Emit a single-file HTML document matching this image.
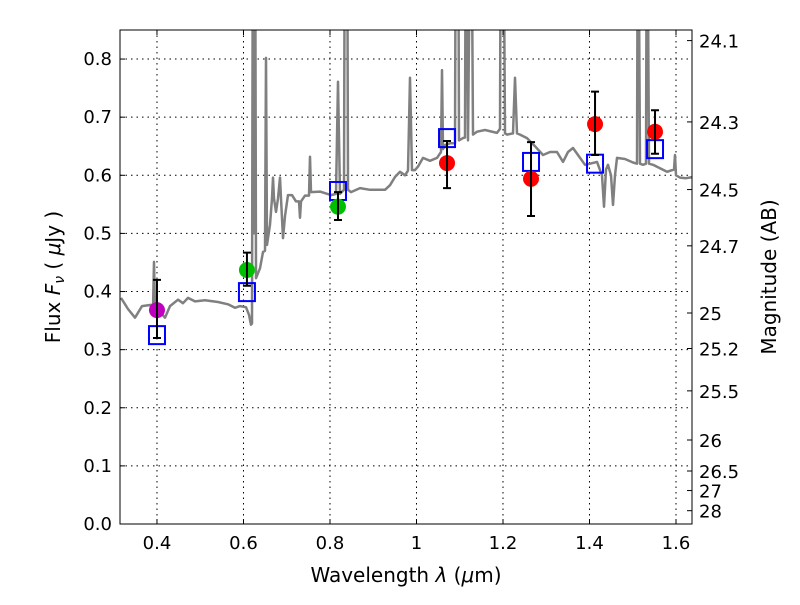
<!DOCTYPE html>
<html><head><meta charset="utf-8"><style>
body{margin:0;background:#fff;}
svg text{font-family:"DejaVu Sans","Liberation Sans",sans-serif;fill:#000;}
</style></head><body>
<svg id="chart" width="800" height="600">
<defs><clipPath id="clip"><rect x="120" y="30" width="572" height="494"/></clipPath></defs>
<g id="grid"></g>
<g id="spec" clip-path="url(#clip)"></g>
<g id="marks" clip-path="url(#clip)"></g>
<rect x="120" y="30" width="572" height="494" fill="none" stroke="#000" stroke-width="1"/>
<g id="axes"></g>
<text x="406" y="582" font-size="20" text-anchor="middle">Wavelength  <tspan font-style="italic">λ</tspan> (<tspan font-style="italic">μ</tspan>m)</text>
<text transform="translate(60,277) rotate(-90)" font-size="20" text-anchor="middle">Flux  <tspan font-style="italic">F<tspan font-size="14" dy="4">ν</tspan></tspan><tspan dy="-4">  ( </tspan><tspan font-style="italic">μ</tspan>Jy )</text>
<text transform="translate(776,277) rotate(-90)" font-size="20" text-anchor="middle">Magnitude (AB)</text>
</svg>
<script>
const specLam=[0.3168,0.3330,0.3492,0.3654,0.3862,0.3908,0.3931,0.3954,0.4070,0.4185,0.4301,0.4486,0.4602,0.4717,0.4879,0.5110,0.5411,0.5642,0.5804,0.5919,0.6058,0.6127,0.6174,0.6197,0.6220,0.6243,0.6266,0.6289,0.6382,0.6451,0.6497,0.6521,0.6544,0.6613,0.6659,0.6682,0.6705,0.6752,0.6798,0.6844,0.6867,0.6914,0.6960,0.7029,0.7122,0.7214,0.7283,0.7307,0.7330,0.7422,0.7515,0.7538,0.7561,0.7769,0.8023,0.8139,0.8185,0.8231,0.8324,0.8347,0.8393,0.8416,0.8486,0.8694,0.8925,0.9272,0.9387,0.9503,0.9619,0.9734,0.9804,0.9850,0.9896,0.9965,1.0035,1.0150,1.0312,1.0474,1.0567,1.0590,1.0613,1.0659,1.0775,1.0890,1.0913,1.0960,1.0983,1.1075,1.1121,1.1145,1.1191,1.1260,1.1306,1.1399,1.1584,1.1861,1.1931,1.1954,1.2000,1.2046,1.2092,1.2231,1.2277,1.2324,1.2393,1.2555,1.2740,1.2925,1.3087,1.3248,1.3387,1.3503,1.3618,1.3734,1.3896,1.4011,1.4173,1.4289,1.4335,1.4381,1.4428,1.4497,1.4543,1.4589,1.4636,1.4821,1.5006,1.5098,1.5121,1.5167,1.5237,1.5306,1.5329,1.5375,1.5468,1.5630,1.5792,1.5953,1.5976,1.6000,1.6092,1.6231,1.6393];
const specFlux=[0.389,0.370,0.355,0.375,0.377,0.370,0.451,0.370,0.365,0.355,0.375,0.386,0.380,0.389,0.383,0.385,0.382,0.378,0.372,0.375,0.373,0.360,0.343,0.345,1.2,0.5,1.2,0.423,0.440,0.468,0.470,0.802,0.480,0.515,0.560,0.596,0.560,0.537,0.560,0.596,0.560,0.492,0.530,0.566,0.566,0.555,0.555,0.527,0.555,0.565,0.565,0.632,0.571,0.572,0.566,0.568,0.761,0.568,0.575,1.2,1.2,0.575,0.571,0.578,0.575,0.575,0.583,0.597,0.606,0.600,0.608,0.768,0.609,0.609,0.615,0.630,0.625,0.630,0.640,0.781,0.645,0.652,0.655,0.655,1.2,1.2,0.660,0.664,0.665,1.2,0.660,1.2,0.670,0.675,0.678,0.673,0.680,1.2,1.2,0.672,0.670,0.672,0.768,0.672,0.670,0.664,0.650,0.635,0.640,0.640,0.623,0.640,0.647,0.635,0.618,0.620,0.623,0.600,0.546,0.610,0.618,0.600,0.549,0.600,0.630,0.628,0.622,0.620,1.2,0.620,0.618,0.620,1.2,0.620,0.618,0.612,0.606,0.610,0.635,0.600,0.596,0.595,0.597];
const modelLam=[0.40,0.608,0.8185,1.0706,1.2648,1.4128,1.5515];
const modelFlux=[0.325,0.399,0.573,0.664,0.623,0.620,0.645];
const obsLam=[0.40,0.608,0.8185,1.0706,1.2648,1.4128,1.5515];
const obsFlux=[0.368,0.437,0.546,0.621,0.594,0.688,0.675];
const obsErrLo=[0.048,0.027,0.023,0.043,0.064,0.053,0.038];
const obsErrHi=[0.052,0.030,0.025,0.038,0.063,0.056,0.037];
const obsColor=['#bf00bf','#00bf00','#00bf00','#ff0000','#ff0000','#ff0000','#ff0000'];
const xTicks=[0.4,0.6,0.8,1.0,1.2,1.4,1.6];
const xTickLabels=['0.4','0.6','0.8','1','1.2','1.4','1.6'];
const yTicks=[0,0.1,0.2,0.3,0.4,0.5,0.6,0.7,0.8];
const magTicks=[24.1,24.3,24.5,24.7,25,25.2,25.5,26,26.5,27,28];
const X0=120,X1=692,Y0=524,Y1=30,xmin=0.3145,xmax=1.637,ymin=0,ymax=0.85;
const sx=v=>X0+(v-xmin)/(xmax-xmin)*(X1-X0);
const sy=v=>Y0-(v-ymin)/(ymax-ymin)*(Y0-Y1);
const NS='http://www.w3.org/2000/svg';
function mk(tag,attrs,parent){const e=document.createElementNS(NS,tag);for(const k in attrs)e.setAttribute(k,attrs[k]);parent.appendChild(e);return e;}
const grid=document.getElementById('grid'),axes=document.getElementById('axes'),spec=document.getElementById('spec'),marks=document.getElementById('marks');
xTicks.forEach((t,i)=>{const x=sx(t);
 const g=mk('line',{x1:x,x2:x,y1:Y1,y2:Y0,stroke:'#000','stroke-dasharray':'1.5,4','stroke-width':1},grid);
 
 
 mk('line',{x1:x,x2:x,y1:Y0,y2:Y0-5,stroke:'#000'},axes);
 mk('line',{x1:x,x2:x,y1:Y1,y2:Y1+5,stroke:'#000'},axes);
 const tx=mk('text',{x:x,y:Y0+25,'font-size':18,'text-anchor':'middle'},axes);tx.textContent=xTickLabels[i];
 
 });
yTicks.forEach(t=>{const y=sy(t);
 const g=mk('line',{x1:X0,x2:X1,y1:y,y2:y,stroke:'#000','stroke-dasharray':'1.5,4','stroke-width':1},grid);
 
 
 mk('line',{x1:X0,x2:X0+5,y1:y,y2:y,stroke:'#000'},axes);
 const tx=mk('text',{x:X0-8,y:y+6,'font-size':18,'text-anchor':'end'},axes);tx.textContent=t.toFixed(1);
 
 });
magTicks.forEach(m=>{const f=Math.pow(10,(23.9-m)/2.5);const y=sy(f);
 mk('line',{x1:X1,x2:X1-5,y1:y,y2:y,stroke:'#000'},axes);
 const tx=mk('text',{x:X1+7,y:y+7,'font-size':18},axes);tx.textContent=String(m);
 
 });
const sp=mk('polyline',{points:specLam.map((l,i)=>sx(l).toFixed(1)+','+sy(specFlux[i]).toFixed(1)).join(' '),fill:'none',stroke:'#808080','stroke-width':2.5,'stroke-linejoin':'round'},spec);


modelLam.forEach((l,i)=>{const x=sx(l),y=sy(modelFlux[i]);
 const r=mk('rect',{x:x-8,y:y-9,width:16,height:18,fill:'none',stroke:'#0000ff','stroke-width':2},marks);
 
 });
obsLam.forEach((l,i)=>{const x=sx(l),y=sy(obsFlux[i]),yt=sy(obsFlux[i]+obsErrHi[i]),yb=sy(obsFlux[i]-obsErrLo[i]);
 const c=mk('circle',{cx:x,cy:y,r:8,fill:obsColor[i]},marks);
 
 
 const e=mk('path',{d:`M${x},${yt}V${yb}M${x-4},${yt}H${x+4}M${x-4},${yb}H${x+4}`,stroke:'#000','stroke-width':2,fill:'none'},marks);
 
 });
</script>
</body></html>
